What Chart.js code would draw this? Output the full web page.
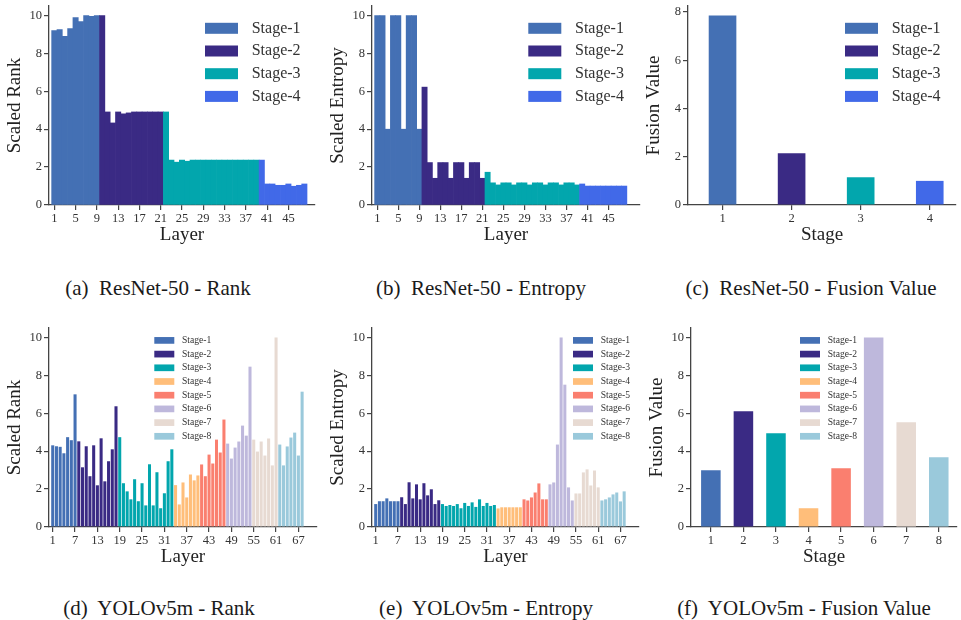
<!DOCTYPE html>
<html>
<head>
<meta charset="utf-8">
<script src="https://cdn.jsdelivr.net/npm/chart.js@4.4.0/dist/chart.umd.min.js"></script>
<style>
body { margin: 0; background: #fff; width: 961px; height: 620px; position: relative; overflow: hidden; font-family: "Liberation Serif", serif; }
canvas { position: absolute; }
.cap { position: absolute; width: 340px; text-align: center; font-size: 21px; line-height: 24px; color: #1a1a1a; white-space: pre; }
</style>
</head>
<body>
<canvas id="chartA"></canvas>
<canvas id="chartB"></canvas>
<canvas id="chartC"></canvas>
<canvas id="chartD"></canvas>
<canvas id="chartE"></canvas>
<canvas id="chartF"></canvas>
<div class="cap" style="left:-12px;top:276px">(a)  ResNet-50 - Rank</div>
<div class="cap" style="left:311px;top:276px">(b)  ResNet-50 - Entropy</div>
<div class="cap" style="left:641px;top:276px">(c)  ResNet-50 - Fusion Value</div>
<div class="cap" style="left:-11px;top:596px">(d)  YOLOv5m - Rank</div>
<div class="cap" style="left:316px;top:596px">(e)  YOLOv5m - Entropy</div>
<div class="cap" style="left:634px;top:596px">(f)  YOLOv5m - Fusion Value</div>
<script>
// stage names / colours
var resStages = ['Stage-1', 'Stage-2', 'Stage-3', 'Stage-4'];
var resColors = ['#4470b4', '#3a2a84', '#02a6ad', '#4169e8'];
var resStageSizes = [9, 12, 18, 9];

var yoloStages = ['Stage-1', 'Stage-2', 'Stage-3', 'Stage-4', 'Stage-5', 'Stage-6', 'Stage-7', 'Stage-8'];
var yoloColors = ['#4470b4', '#3a2a84', '#02a6ad', '#ffbe7a', '#fa7f6f', '#beb8dc', '#e7dad2', '#9ac9db'];
var yoloStageSizes = [7, 11, 15, 7, 7, 7, 7, 7];

// ResNet-50 values per layer
var resRank = [
    9.20, 9.26, 8.90, 9.31, 9.89, 9.68, 10.0, 9.95, 10.0,
    10.0, 4.91, 4.33, 4.91, 4.81, 4.86, 4.91, 4.91, 4.91, 4.91, 4.91, 4.91,
    4.91, 2.37, 2.26, 2.37, 2.31, 2.37, 2.37, 2.37, 2.37, 2.37, 2.37, 2.37, 2.37, 2.37, 2.37, 2.37, 2.37, 2.37,
    2.37, 1.11, 1.11, 1.04, 1.04, 1.11, 0.99, 1.04, 1.11
];
var resEntropy = [
    10.0, 10.0, 4.0, 10.0, 10.0, 4.0, 10.0, 10.0, 4.0,
    6.22, 2.24, 1.41, 2.24, 2.24, 1.41, 2.24, 2.24, 1.41, 2.24, 2.24, 1.41,
    1.73, 1.17, 1.06, 1.17, 1.17, 1.06, 1.17, 1.17, 1.06, 1.17, 1.17, 1.06, 1.17, 1.17, 1.06, 1.17, 1.17, 1.06,
    1.11, 1.0, 1.0, 1.0, 1.0, 1.0, 1.0, 1.0, 1.0
];
var resFusion = [7.86, 2.15, 1.15, 1.0];

// YOLOv5m values per layer
var yoloRank = [
    4.31, 4.26, 4.23, 3.89, 4.74, 4.58, 7.0,
    4.52, 3.15, 4.26, 2.68, 4.31, 2.20, 4.68, 2.41, 3.47, 4.10, 6.37,
    4.74, 2.31, 1.88, 1.46, 2.52, 1.36, 2.31, 1.14, 3.31, 1.14, 2.89, 0.99, 1.78, 3.47, 4.10,
    2.21, 1.19, 2.35, 1.56, 2.77, 2.46, 2.72,
    3.30, 2.68, 3.82, 3.35, 4.61, 3.93, 5.67,
    4.40, 3.61, 4.19, 4.51, 5.35, 4.82, 8.46,
    4.61, 3.98, 4.51, 3.77, 4.67, 3.25, 10.0,
    4.35, 3.25, 4.25, 4.72, 4.98, 3.77, 7.14
];
var yoloEntropy = [
    1.21, 1.36, 1.36, 1.51, 1.36, 1.36, 1.36,
    1.57, 1.21, 2.36, 1.51, 2.25, 1.46, 2.31, 1.67, 1.99, 1.21, 1.41,
    1.21, 1.11, 1.16, 1.11, 1.21, 0.99, 1.27, 1.11, 1.30, 1.06, 1.46, 1.11, 1.27, 1.11, 1.16,
    0.98, 1.04, 1.04, 1.04, 1.04, 1.04, 1.04,
    1.46, 1.40, 1.56, 1.82, 2.30, 1.46, 1.46,
    2.25, 2.35, 4.35, 10.0, 7.51, 2.09, 1.40,
    1.77, 1.77, 2.88, 3.04, 2.19, 2.98, 2.09,
    1.40, 1.46, 1.56, 1.72, 1.82, 1.35, 1.88
];
var yoloFusion = [2.99, 6.11, 4.95, 0.99, 3.10, 10.0, 5.53, 3.68];

// tick labels
var resLayerTicks = [1, 5, 9, 13, 17, 21, 25, 29, 33, 37, 41, 45];
var yoloLayerTicks = [1, 7, 13, 19, 25, 31, 37, 43, 49, 55, 61, 67];
var resStageTicks = [1, 2, 3, 4];
var yoloStageTicks = [1, 2, 3, 4, 5, 6, 7, 8];
var valueTicks = [0, 2, 4, 6, 8, 10];
var fusionResTicks = [0, 2, 4, 6, 8];

var FONT = '"Liberation Serif", serif';

function indexLabels(n) {
    var out = [];
    for (var i = 1; i <= n; i++) out.push(i);
    return out;
}

function colorsBySize(sizes, colors) {
    var out = [];
    sizes.forEach(function (s, k) {
        for (var i = 0; i < s; i++) out.push(colors[k]);
    });
    return out;
}

// draws the stage legend inside the plot area
function stageLegend(lg) {
    return {
        id: 'stageLegend',
        afterDatasetsDraw: function (chart) {
            var ctx = chart.ctx, area = chart.chartArea;
            ctx.save();
            ctx.font = lg.size + 'px ' + FONT;
            ctx.textBaseline = 'middle';
            lg.names.forEach(function (name, i) {
                var cy = area.top + lg.first + i * lg.gap;
                var bx = area.right - lg.fromRight;
                ctx.fillStyle = lg.colors[i];
                ctx.fillRect(bx, cy - lg.boxH / 2, lg.boxW, lg.boxH);
                ctx.fillStyle = '#333';
                ctx.fillText(name, bx + lg.textGap, cy);
            });
            ctx.restore();
        }
    };
}

function drawPanel(id, area, cfg) {
    var padL = 49, padT = 6, padR = 6, padB = 48;
    var cv = document.getElementById(id);
    cv.width = area.w + padL + padR;
    cv.height = area.h + padT + padB;
    cv.style.left = (area.x - padL) + 'px';
    cv.style.top = (area.y - padT) + 'px';

    var axisColor = '#444';
    new Chart(cv, {
        type: 'bar',
        data: {
            labels: cfg.labels,
            datasets: [{
                data: cfg.values,
                backgroundColor: cfg.colors,
                borderWidth: 0,
                barPercentage: cfg.barPct,
                categoryPercentage: 1
            }]
        },
        options: {
            responsive: false,
            animation: false,
            devicePixelRatio: 1,
            layout: { padding: { left: 0, top: padT, right: padR, bottom: 0 } },
            plugins: { legend: { display: false }, tooltip: { enabled: false } },
            scales: {
                x: {
                    type: 'linear',
                    min: cfg.xMin,
                    max: cfg.xMax,
                    offset: false,
                    grid: { display: true, offset: false, drawOnChartArea: false, drawTicks: true, tickLength: 5, color: axisColor, lineWidth: 1.2 },
                    border: { display: true, color: axisColor, width: 1.3 },
                    ticks: { font: { family: FONT, size: 12.5 }, color: '#333', padding: 1, maxRotation: 0, autoSkip: false },
                    title: { display: true, text: cfg.xTitle, font: { family: FONT, size: 19 }, color: '#222', padding: { top: 0, bottom: 7 } },
                    afterBuildTicks: function (s) { s.ticks = cfg.xTicks.map(function (v) { return { value: v }; }); },
                    afterFit: function (s) { s.height = padB; s.paddingLeft = 0; s.paddingRight = 0; }
                },
                y: {
                    min: 0,
                    max: cfg.yMax,
                    grid: { display: true, drawOnChartArea: false, drawTicks: true, tickLength: 5, color: axisColor, lineWidth: 1.2 },
                    border: { display: true, color: axisColor, width: 1.3 },
                    ticks: { font: { family: FONT, size: 12.5 }, color: '#333', padding: 2 },
                    title: { display: true, text: cfg.yTitle, font: { family: FONT, size: 19 }, color: '#222', padding: { top: 4, bottom: 0 } },
                    afterBuildTicks: function (s) { s.ticks = cfg.yTicks.map(function (v) { return { value: v }; }); },
                    afterFit: function (s) { s.width = padL; s.paddingTop = 0; s.paddingBottom = 0; }
                }
            }
        },
        plugins: [stageLegend(cfg.legend)]
    });
}

var bigLegend = { size: 16, boxW: 33, boxH: 11, first: 22.3, gap: 22.7, textGap: 46.7, fromRight: 111 };
var smallLegend = { size: 9.6, boxW: 20, boxH: 6.7, first: 12.4, gap: 13.7, textGap: 27.7 };

function legendFor(base, names, colors, fromRight) {
    return Object.assign({}, base, { names: names, colors: colors, fromRight: fromRight === undefined ? base.fromRight : fromRight });
}

// (a) ResNet-50 - Rank
drawPanel('chartA', { x: 49, y: 6, w: 266, h: 199 }, {
    labels: indexLabels(resRank.length), values: resRank, colors: colorsBySize(resStageSizes, resColors),
    barPct: 1, xMin: 0, xMax: 50, yMax: 10.5, xTicks: resLayerTicks, yTicks: valueTicks,
    xTitle: 'Layer', yTitle: 'Scaled Rank', legend: legendFor(bigLegend, resStages, resColors, 110)
});

// (b) ResNet-50 - Entropy
drawPanel('chartB', { x: 372, y: 6, w: 268, h: 199 }, {
    labels: indexLabels(resEntropy.length), values: resEntropy, colors: colorsBySize(resStageSizes, resColors),
    barPct: 1, xMin: 0, xMax: 51, yMax: 10.5, xTicks: resLayerTicks, yTicks: valueTicks,
    xTitle: 'Layer', yTitle: 'Scaled Entropy', legend: legendFor(bigLegend, resStages, resColors, 111.7)
});

// (c) ResNet-50 - Fusion Value
drawPanel('chartC', { x: 688, y: 6, w: 268, h: 199 }, {
    labels: resStageTicks, values: resFusion, colors: resColors,
    barPct: 0.4, xMin: 0.5, xMax: 4.38, yMax: 8.25, xTicks: resStageTicks, yTicks: fusionResTicks,
    xTitle: 'Stage', yTitle: 'Fusion Value', legend: legendFor(bigLegend, resStages, resColors, 111)
});

// (d) YOLOv5m - Rank
drawPanel('chartD', { x: 49, y: 328, w: 268, h: 199 }, {
    labels: indexLabels(yoloRank.length), values: yoloRank, colors: colorsBySize(yoloStageSizes, yoloColors),
    barPct: 0.82, xMin: 0, xMax: 72, yMax: 10.5, xTicks: yoloLayerTicks, yTicks: valueTicks,
    xTitle: 'Layer', yTitle: 'Scaled Rank', legend: legendFor(smallLegend, yoloStages, yoloColors, 162.7)
});

// (e) YOLOv5m - Entropy
drawPanel('chartE', { x: 372, y: 328, w: 267, h: 199 }, {
    labels: indexLabels(yoloEntropy.length), values: yoloEntropy, colors: colorsBySize(yoloStageSizes, yoloColors),
    barPct: 0.82, xMin: 0, xMax: 72, yMax: 10.5, xTicks: yoloLayerTicks, yTicks: valueTicks,
    xTitle: 'Layer', yTitle: 'Scaled Entropy', legend: legendFor(smallLegend, yoloStages, yoloColors, 66)
});

// (f) YOLOv5m - Fusion Value
drawPanel('chartF', { x: 691, y: 328, w: 266, h: 199 }, {
    labels: yoloStageTicks, values: yoloFusion, colors: yoloColors,
    barPct: 0.6, xMin: 0.39, xMax: 8.56, yMax: 10.5, xTicks: yoloStageTicks, yTicks: valueTicks,
    xTitle: 'Stage', yTitle: 'Fusion Value', legend: legendFor(smallLegend, yoloStages, yoloColors, 157)
});
</script>
</body>
</html>
